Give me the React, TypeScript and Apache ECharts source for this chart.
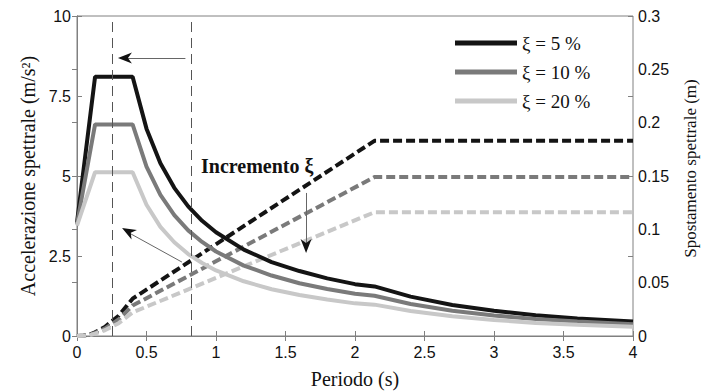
import React, { useEffect, useRef } from "react";
import * as echarts from "echarts";

// Acceleration spectra (left axis, m/s^2)
const periods = [0, 0.13, 0.4, 0.5, 0.6, 0.7, 0.8, 0.9, 1.0, 1.2, 1.4, 1.6, 1.8, 2.0, 2.14, 2.4, 2.7, 3.0, 3.3, 3.6, 4.0];
const accel5 = [3.55, 8.1, 8.1, 6.48, 5.4, 4.63, 4.05, 3.6, 3.24, 2.7, 2.31, 2.03, 1.8, 1.62, 1.55, 1.23, 0.97, 0.79, 0.65, 0.55, 0.45];
const accel10 = [3.5, 6.61, 6.61, 5.29, 4.41, 3.78, 3.3, 2.94, 2.64, 2.2, 1.89, 1.65, 1.47, 1.32, 1.26, 1.0, 0.79, 0.64, 0.53, 0.45, 0.37];
const accel20 = [3.45, 5.12, 5.12, 4.1, 3.41, 2.93, 2.56, 2.28, 2.05, 1.71, 1.46, 1.28, 1.14, 1.02, 0.98, 0.78, 0.62, 0.5, 0.41, 0.35, 0.29];

// Displacement spectra (right axis, m)
const dPeriods = [0, 0.05, 0.1, 0.13, 0.2, 0.3, 0.4, 2.14, 4.0];
const disp5 = [0, 0.0004, 0.0018, 0.0035, 0.0085, 0.019, 0.035, 0.183, 0.183];
const disp10 = [0, 0.0003, 0.0015, 0.0029, 0.0069, 0.0155, 0.0285, 0.149, 0.149];
const disp20 = [0, 0.0002, 0.0012, 0.0022, 0.0054, 0.012, 0.0221, 0.116, 0.116];

const legendNames = ["ξ = 5 %", "ξ = 10 %", "ξ = 20 %"];
const colors = ["#141414", "#7a7a7a", "#c8c8c8"];

// reference periods (vertical dashed lines)
const refPeriods = [0.25, 0.82];

const SERIF = '"Liberation Serif", "Times New Roman", serif';
const SANS = '"Liberation Sans", Arial, sans-serif';

const zip = (xs: number[], ys: number[]) => xs.map((x, i) => [x, ys[i]]);

const ARROW = "path://M5,0L10,14L5,10L0,14Z";

export default function App() {
  const ref = useRef<HTMLDivElement>(null);
  useEffect(() => {
    if (!ref.current) return;
    const chart = echarts.init(ref.current, null, { renderer: "svg" });
    const accs = [accel5, accel10, accel20];
    const disps = [disp5, disp10, disp20];
    const solid = accs.map((a, i) => ({
      name: legendNames[i],
      type: "line",
      xAxisIndex: 0,
      yAxisIndex: 0,
      data: zip(periods, a),
      showSymbol: false,
      symbol: "none",
      color: colors[i],
      lineStyle: { color: colors[i], width: 4 },
      z: 3,
    }));
    const dashed = disps.map((d, i) => ({
      name: "disp" + i,
      type: "line",
      xAxisIndex: 0,
      yAxisIndex: 1,
      data: zip(dPeriods, d),
      showSymbol: false,
      symbol: "none",
      color: colors[i],
      lineStyle: { color: colors[i], width: 4, type: [9, 4] },
      z: 3,
    }));
    (solid[0] as any).markLine = {
      silent: true,
      symbol: "none",
      label: { show: false },
      animation: false,
      data: [
        ...refPeriods.map((p) => ({
          xAxis: p,
          lineStyle: { color: "#555", width: 1, type: [10, 6] },
        })),
        [
          { coord: [0.78, 8.69], lineStyle: { color: "#666", width: 1, type: "solid" } },
          { coord: [0.33, 8.69] },
        ],
        [
          { coord: [0.755, 2.31], lineStyle: { color: "#666", width: 1, type: "solid" } },
          { coord: [0.35, 3.28] },
        ],
        [
          { coord: [1.648, 4.47], lineStyle: { color: "#666", width: 1, type: "solid" } },
          { coord: [1.648, 2.8] },
        ],
      ],
    };
    (solid[0] as any).markPoint = {
      silent: true,
      symbol: ARROW,
      symbolSize: [11, 14],
      label: { show: false },
      itemStyle: { color: "#111" },
      animation: false,
      data: [
        { coord: [0.345, 8.69], symbolRotate: 90 },
        { coord: [0.368, 3.27], symbolRotate: 60.5 },
        { coord: [1.648, 2.81], symbolRotate: 180 },
      ],
    };

    const axisLineStyle = { color: "#808080", width: 1 };
    const tickLabel = { color: "#111", fontFamily: SANS, fontSize: 16 };
    const nameStyle = { color: "#111", fontFamily: SERIF, fontSize: 20 };

    chart.setOption({
      animation: false,
      backgroundColor: "#fff",
      grid: {
        left: 77,
        right: 68,
        top: 16,
        bottom: 56,
        containLabel: false,
        outerBoundsMode: "none",
        show: true,
        borderColor: "#808080",
        borderWidth: 1,
      },
      legend: {
        data: legendNames,
        orient: "vertical",
        left: 455,
        top: 32,
        icon: "rect",
        itemWidth: 62,
        itemHeight: 5,
        itemGap: 7,
        padding: 0,
        textStyle: { fontFamily: SERIF, fontSize: 19, color: "#111", lineHeight: 22 },
      },
      xAxis: [
        {
          type: "value",
          position: "bottom",
          min: 0,
          max: 4,
          interval: 0.5,
          name: "Periodo (s)",
          nameLocation: "middle",
          nameGap: 33,
          nameTextStyle: nameStyle,
          axisLine: { show: true, lineStyle: axisLineStyle },
          axisTick: { show: true, inside: true, length: 5, lineStyle: axisLineStyle },
          axisLabel: { ...tickLabel, margin: 8 },
          splitLine: { show: false },
        },
        {
          type: "value",
          position: "top",
          min: 0,
          max: 4,
          interval: 0.5,
          axisLine: { show: true, lineStyle: axisLineStyle },
          axisTick: { show: true, inside: true, length: 5, lineStyle: axisLineStyle },
          axisLabel: { show: false },
          splitLine: { show: false },
        },
      ],
      yAxis: [
        {
          type: "value",
          position: "left",
          min: 0,
          max: 10,
          interval: 2.5,
          name: "Accelerazione spettrale (m/s²)",
          nameLocation: "middle",
          nameRotate: 90,
          nameGap: 38,
          nameTextStyle: nameStyle,
          axisLine: { show: true, lineStyle: axisLineStyle },
          axisTick: { show: true, inside: true, length: 5, lineStyle: axisLineStyle },
          axisLabel: { ...tickLabel, margin: 6 },
          splitLine: { show: false },
        },
        {
          type: "value",
          position: "right",
          min: 0,
          max: 0.3,
          interval: 0.05,
          name: "Spostamento spettrale (m)",
          nameLocation: "middle",
          nameRotate: 90,
          nameGap: 49,
          nameTextStyle: { ...nameStyle, fontSize: 17, padding: [0, 0, 0, 15] },
          axisLine: { show: true, lineStyle: axisLineStyle },
          axisTick: { show: true, inside: true, length: 5, lineStyle: axisLineStyle },
          axisLabel: { ...tickLabel, margin: 5 },
          splitLine: { show: false },
        },
        {
          type: "value",
          position: "right",
          min: 0,
          max: 10,
          interval: 2.5,
          axisLine: { show: false },
          axisTick: { show: true, inside: true, length: 5, lineStyle: axisLineStyle },
          axisLabel: { show: false },
          splitLine: { show: false },
        },
      ],
      graphic: [
        {
          type: "text",
          left: 201,
          top: 156,
          style: { text: "Incremento ξ", font: `bold 20px ${SERIF}`, fill: "#111" },
        },
      ],
      series: [...dashed, ...solid],
    });
    return () => chart.dispose();
  }, []);
  return (
    <div
      ref={ref}
      style={{ position: "absolute", left: 0, top: 0, width: 701, height: 392 }}
    />
  );
}
